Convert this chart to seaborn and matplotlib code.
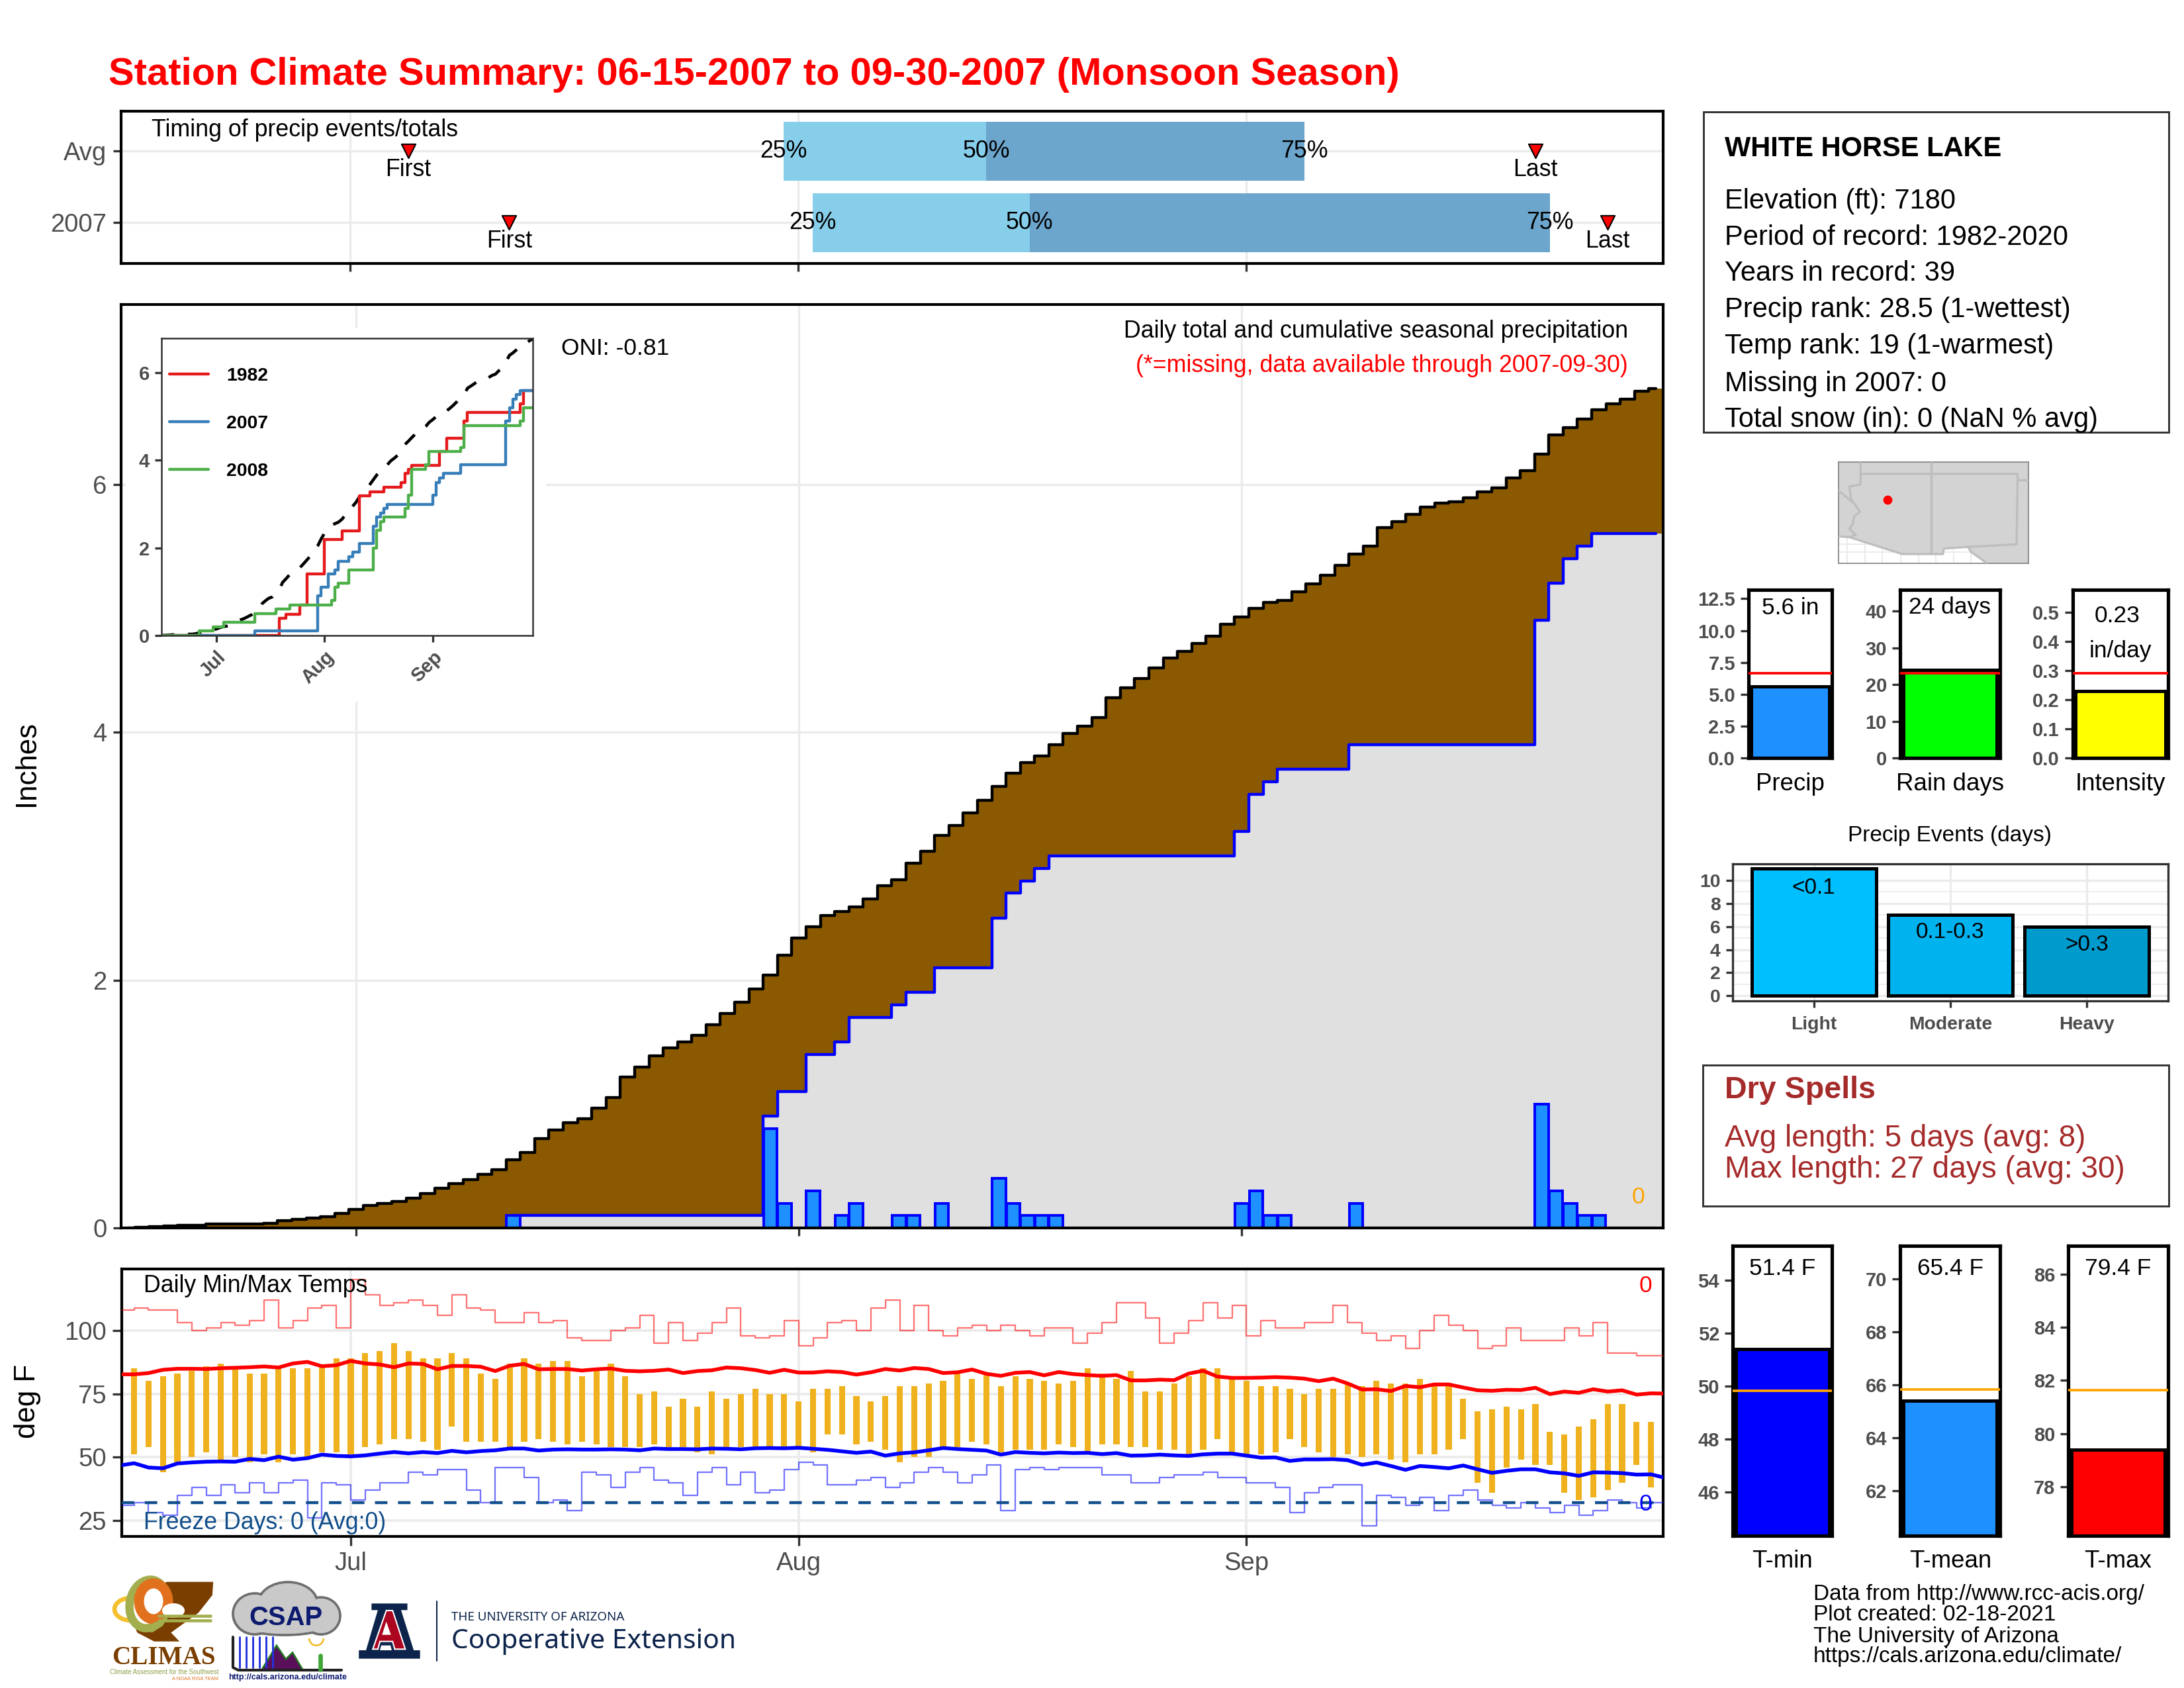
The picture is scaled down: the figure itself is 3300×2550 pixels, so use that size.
import numpy as np
import pandas as pd
import matplotlib
matplotlib.use('Agg')
import matplotlib.pyplot as plt
from matplotlib.patches import Rectangle, Polygon, Ellipse, Wedge
import seaborn as sns

# ==================== DATA ====================
# day numbers count from 06-15 (day 0), so Jul 1 = 16, Aug 1 = 47, Sep 1 = 78
month_days = [16, 47, 78]
month_labels = ['Jul', 'Aug', 'Sep']

avg_cum = [0.0, 0.005, 0.01, 0.015, 0.02, 0.02, 0.03, 0.03, 0.03, 0.03, 0.04, 0.06, 0.07, 0.08, 0.09,
           0.12, 0.15, 0.18, 0.20, 0.215, 0.24, 0.28, 0.32, 0.36, 0.39, 0.43, 0.47, 0.55, 0.61, 0.72,
           0.79, 0.85, 0.88, 0.965, 1.05, 1.215, 1.30, 1.39, 1.455, 1.50, 1.555, 1.64, 1.73, 1.82, 1.93,
           2.04, 2.20, 2.34, 2.43, 2.52, 2.555, 2.59, 2.655, 2.76, 2.81, 2.945, 3.04, 3.165, 3.245, 3.35,
           3.45, 3.56, 3.67, 3.755, 3.81, 3.90, 3.99, 4.05, 4.12, 4.28, 4.36, 4.435, 4.52, 4.60, 4.65,
           4.715, 4.775, 4.87, 4.93, 5.0, 5.045, 5.065, 5.13, 5.195, 5.265, 5.345, 5.435, 5.50, 5.65, 5.70,
           5.755, 5.815, 5.85, 5.86, 5.89, 5.94, 5.97, 6.05, 6.11, 6.245, 6.40, 6.455, 6.525, 6.60, 6.65,
           6.685, 6.75, 6.77]

rain_days = [27, 45, 46, 48, 50, 51, 54, 55, 57, 61, 62, 63, 64, 65, 78, 79, 80, 81, 86, 99, 100, 101, 102, 103]
rain_amt = [0.1, 0.8, 0.2, 0.3, 0.1, 0.2, 0.1, 0.1, 0.2, 0.4, 0.2, 0.1, 0.1, 0.1, 0.2, 0.3, 0.1, 0.1, 0.2,
            1.0, 0.3, 0.2, 0.1, 0.1]

# inset years, day of each jump and the total after it
y1982_days = [0, 34, 36, 40, 42, 47, 52, 57, 60, 64, 69, 70, 71, 72, 80, 82, 87, 88, 103, 104, 107]
y1982_vals = [0, 0.39, 0.49, 0.70, 1.40, 2.20, 2.39, 3.19, 3.28, 3.39, 3.50, 3.70, 3.80, 3.89, 4.21, 4.50,
              4.90, 5.10, 5.30, 5.60, 5.60]
y2008_days = [0, 11, 15, 18, 27, 33, 37, 49, 50, 51, 54, 61, 62, 63, 64, 70, 71, 72, 76, 77, 86, 87, 103, 104, 107]
y2008_vals = [0, 0.1, 0.2, 0.3, 0.5, 0.6, 0.7, 0.8, 1.1, 1.2, 1.5, 2.0, 2.4, 2.6, 2.7, 2.9, 3.2, 3.8, 3.9, 4.2,
              4.3, 4.8, 4.9, 5.2, 5.2]

# temps, highs and lows run from day 1
temp_high = [85, 80, 82, 83, 84, 86, 87, 85, 83, 83, 85, 85, 85, 86, 89, 89, 91, 92, 95, 92, 89, 89, 91, 89, 83,
             81, 87, 89, 87, 88, 88, 82, 85, 87, 82, 75, 76, 70, 73, 70, 76, 73, 75, 77, 75, 75, 72, 77, 77, 78,
             74, 72, 74, 78, 78, 79, 80, 83, 81, 83, 78, 82, 81, 80, 79, 80, 85, 83, 81, 84, 76, 76, 79, 82, 85,
             85, 81, 80, 78, 78, 77, 75, 77, 77, 79, 78, 80, 79, 79, 81, 79, 79, 73, 68, 69, 70, 69, 71, 60, 59,
             62, 65, 71, 71, 64, 64]
temp_low = [51, 54, 44, 48, 50, 52, 49, 50, 48, 51, 48, 51, 50, 52, 52, 51, 54, 55, 57, 57, 56, 53, 62, 56, 56,
            56, 54, 56, 57, 56, 55, 56, 55, 54, 54, 54, 55, 54, 54, 52, 51, 53, 54, 54, 54, 54, 54, 52, 59, 59,
            55, 56, 53, 48, 50, 50, 54, 54, 56, 55, 52, 53, 53, 53, 55, 54, 52, 55, 55, 54, 54, 53, 53, 51, 53,
            57, 52, 51, 51, 52, 57, 54, 52, 50, 51, 50, 51, 49, 48, 51, 51, 53, 57, 40, 36, 46, 49, 47, 47, 36,
            33, 34, 37, 40, 47, 38]

# record lines start at day 0
rec_high = [108, 109, 108, 108, 103, 100, 101, 103, 102, 104, 112, 101, 104, 109, 110, 101, 120, 114, 110, 111,
            112, 110, 106, 114, 109, 108, 103, 103, 107, 103, 104, 97, 96, 96, 100, 101, 106, 95, 103, 96, 99,
            103, 109, 98, 97, 98, 104, 94, 97, 103, 104, 100, 109, 112, 100, 110, 100, 98, 101, 102, 100, 102,
            100, 98, 101, 101, 95, 99, 103, 111, 111, 105, 95, 99, 104, 111, 105, 110, 98, 104, 101, 101, 103,
            103, 110, 103, 99, 96, 98, 93, 100, 106, 102, 100, 93, 94, 101, 96, 96, 96, 101, 98, 103, 91, 91,
            90, 90, 90]
rec_low = [31, 32, 28, 27, 35, 38, 35, 39, 36, 40, 36, 40, 41, 26, 40, 39, 33, 37, 40, 40, 44, 43, 45, 45, 37,
           32, 46, 46, 42, 32, 33, 29, 44, 43, 38, 44, 46, 41, 40, 35, 44, 46, 39, 44, 36, 37, 45, 48, 47, 39,
           39, 41, 42, 38, 40, 44, 46, 44, 40, 43, 47, 29, 45, 46, 45, 46, 46, 46, 43, 43, 40, 40, 42, 43, 43,
           44, 42, 42, 40, 40, 38, 28, 36, 38, 39, 39, 23, 35, 34, 31, 34, 29, 35, 37, 33, 31, 30, 32, 30, 28,
           31, 27, 29, 33, 32, 30, 32, 32]

# average lines start at day 0
avg_max = [82.7, 82.7, 83.2, 84.5, 84.9, 84.9, 84.8, 85.1, 85.3, 85.5, 85.8, 85.4, 87.0, 87.6, 85.9, 86.3, 88.0, 87.0,
           86.6, 85.5, 87.0, 86.8, 84.7, 86.0, 86.0, 85.7, 84.0, 86.1, 86.8, 84.7, 84.8, 84.8, 84.2, 84.7, 85.0,
           84.1, 83.9, 84.1, 84.6, 83.2, 84.0, 84.3, 85.4, 85.1, 84.4, 83.3, 84.5, 83.4, 83.4, 83.9, 83.6, 82.6,
           83.5, 84.8, 84.2, 85.2, 84.8, 83.2, 83.5, 84.6, 82.9, 82.1, 83.3, 83.6, 82.3, 83.6, 82.8, 82.4, 82.1,
           82.4, 80.3, 80.3, 80.6, 80.4, 83.0, 84.1, 81.8, 81.3, 81.3, 81.4, 81.6, 81.4, 81.0, 80.0, 81.0, 79.1,
           76.7, 76.8, 76.1, 78.1, 77.6, 78.7, 78.7, 77.5, 76.4, 76.2, 76.6, 76.5, 77.4, 74.9, 75.9, 75.4, 76.8,
           75.9, 76.4, 74.7, 75.2, 75.1]
avg_min = [46.7, 47.6, 45.9, 45.6, 47.5, 47.9, 48.2, 48.3, 48.2, 49.3, 48.8, 50.2, 49.0, 49.6, 51.0, 50.5, 50.3, 50.7,
           51.4, 52.0, 51.5, 52.0, 51.6, 52.5, 51.9, 52.4, 52.7, 53.4, 53.4, 52.6, 53.0, 53.1, 53.0, 53.0, 53.1,
           53.0, 52.7, 53.4, 53.2, 53.2, 53.1, 53.4, 53.3, 53.1, 53.5, 53.6, 53.5, 53.7, 53.3, 52.9, 52.3, 51.7,
           52.2, 50.6, 51.5, 51.9, 52.7, 53.6, 53.2, 52.9, 52.6, 51.0, 52.0, 51.7, 51.5, 51.8, 51.6, 51.7, 51.2,
           51.6, 50.6, 50.7, 51.0, 50.7, 50.5, 51.1, 51.4, 51.4, 50.6, 49.8, 49.9, 48.5, 49.1, 49.1, 49.2, 48.8,
           47.0, 47.9, 46.5, 45.0, 46.5, 46.1, 45.6, 46.7, 45.2, 43.8, 44.6, 45.2, 45.2, 44.0, 43.6, 42.6, 44.0,
           43.9, 43.7, 43.1, 43.2, 41.8]

# timing strip: 25/50/75 pct days, first and last event
timing_rows = ['Avg', '2007']
timing_q25 = [46, 48]
timing_q50 = [60, 63]
timing_q75 = [82, 99]
timing_first = [20, 27]
timing_last = [98, 103]

# right hand summary bars
precip_value, precip_avg = 5.6, 6.65
raindays_value, raindays_avg = 24, 23.05
intensity_value, intensity_avg = 0.23, 0.29
event_names = ['Light', 'Moderate', 'Heavy']
event_counts = [11, 7, 6]
event_tags = ['<0.1', '0.1-0.3', '>0.3']
event_colors = ['#00BFFF', '#00B2EE', '#009ACD']
tmin_value, tmin_avg = 51.4, 49.84
tmean_value, tmean_avg = 65.4, 65.84
tmax_value, tmax_avg = 79.4, 81.64

info_lines = ['Elevation (ft): 7180', 'Period of record: 1982-2020', 'Years in record: 39',
              'Precip rank: 28.5 (1-wettest)', 'Temp rank: 19 (1-warmest)', 'Missing in 2007: 0',
              'Total snow (in): 0 (NaN % avg)']
footer_lines = ['Data from http://www.rcc-acis.org/', 'Plot created: 02-18-2021', 'The University of Arizona',
                'https://cals.arizona.edu/climate/']

# ==================== CONFIGURATION ====================
W, H = 3300, 2550
GRID = '#EBEBEB'
TICKTXT = '#4D4D4D'
TICK = '#333333'

sns.set_theme(style='white')
plt.rcParams['font.family'] = ['Liberation Sans', 'DejaVu Sans']
plt.rcParams['text.color'] = 'black'

fig = plt.figure(figsize=(11, 8.5), dpi=300, facecolor='white')


def px_axes(x0, y0, x1, y1, zorder=1):
    return fig.add_axes([x0 / W, 1 - y1 / H, (x1 - x0) / W, (y1 - y0) / H], zorder=zorder)


def frame(ax, color='black', lw=1.0):
    for s in ax.spines.values():
        s.set_visible(True)
        s.set_color(color)
        s.set_linewidth(lw)


def ticks(ax, size=9.2, bold=False, length=2.8, pad=2.4):
    ax.tick_params(axis='both', which='major', labelsize=size, labelcolor=TICKTXT, color=TICK,
                   length=length, width=0.8, pad=pad, left=True, bottom=True)
    if bold:
        plt.setp(ax.get_xticklabels() + ax.get_yticklabels(), fontweight='bold')


# overlay in pixel coordinates, used for free text and logos
over = px_axes(0, 0, W, H, zorder=2)
over.axis('off')
over.patch.set_alpha(0)

over.text(164, 110, 'Station Climate Summary: 06-15-2007 to 09-30-2007 (Monsoon Season)', color='red',
          fontsize=13.9, fontweight='bold', va='center', ha='left')

# ==================== TIMING STRIP ====================
ax = px_axes(183, 168, 2513, 398)
ypos = [1, 0]
ax.grid(True, color=GRID, lw=0.8)
ax.set_axisbelow(True)
ax.barh(ypos, np.array(timing_q50) - np.array(timing_q25), left=timing_q25, height=0.82, color='#87CEEB', lw=0, zorder=2)
ax.barh(ypos, np.array(timing_q75) - np.array(timing_q50), left=timing_q50, height=0.82, color='#6CA6CD', lw=0, zorder=2)
sns.scatterplot(x=timing_first + timing_last, y=ypos + ypos, marker='v', color='red', edgecolor='black',
                linewidth=0.5, s=26, ax=ax, zorder=3, legend=False)
for i, y in enumerate(ypos):
    ax.text(timing_q25[i], y, '25%', ha='center', va='center', fontsize=8.6, color='black', zorder=4)
    ax.text(timing_q50[i], y, '50%', ha='center', va='center', fontsize=8.6, color='black', zorder=4)
    ax.text(timing_q75[i], y, '75%', ha='center', va='center', fontsize=8.6, color='black', zorder=4)
    ax.text(timing_first[i], y - 0.26, 'First', ha='center', va='center', fontsize=8.6, color='black', zorder=4)
    ax.text(timing_last[i], y - 0.26, 'Last', ha='center', va='center', fontsize=8.6, color='black', zorder=4)
ax.set_xlim(0.15, 106.84)
ax.set_ylim(-0.57, 1.56)
ax.set_yticks(ypos)
ax.set_yticklabels(timing_rows)
ax.set_xticks(month_days)
ax.set_xticklabels([])
frame(ax)
ticks(ax)
over.text(229, 194, 'Timing of precip events/totals', fontsize=8.6, va='center')

# ==================== MAIN PRECIP PANEL ====================
days = np.arange(len(avg_cum))
rain_daily = pd.Series(rain_amt, index=rain_days).reindex(days, fill_value=0.0)
cum_2007 = rain_daily.cumsum().values
fill_days = np.append(days, days[-1] + 1)
fill_avg = np.append(avg_cum, avg_cum[-1])
fill_2007 = np.append(cum_2007, cum_2007[-1])

ax = px_axes(183, 460, 2513, 1855)
ax.grid(True, color=GRID, lw=0.8)
ax.set_axisbelow(True)
ax.fill_between(fill_days, 0, fill_2007, step='mid', color='#E0E0E0', lw=0, zorder=1)
ax.fill_between(fill_days, fill_2007, fill_avg, step='mid', color='#8B5A00', lw=0, zorder=1)
sns.barplot(x=rain_days, y=rain_amt, native_scale=True, width=0.95, color='#1E90FF', saturation=1,
            edgecolor='blue', linewidth=0.95, errorbar=None, ax=ax, zorder=2)
sns.lineplot(x=days, y=avg_cum, color='black', linewidth=1.05, drawstyle='steps-mid', estimator=None, ax=ax, zorder=3)
sns.lineplot(x=days[27:], y=cum_2007[27:], color='blue', linewidth=1.05, drawstyle='steps-mid', estimator=None,
             ax=ax, zorder=3)
ax.set_xlim(-0.45, 107.5)
ax.set_ylim(0, 7.45)
ax.set_xticks(month_days)
ax.set_xticklabels([])
ax.set_yticks([0, 2, 4, 6])
ax.set_ylabel('')
frame(ax)
ticks(ax)

over.add_patch(Rectangle((190, 492), 635, 565, color='white', lw=0, zorder=0))
over.text(40, 1150, 'Inches', rotation=90, fontsize=10.5, ha='center', va='center')
over.text(848, 524, 'ONI: -0.81', fontsize=8.5, va='center')
over.text(2460, 497, 'Daily total and cumulative seasonal precipitation', fontsize=8.6, ha='right', va='center')
over.text(2460, 549, '(*=missing, data available through 2007-09-30)', color='red', fontsize=8.6, ha='right',
          va='center')
over.text(2475, 1805, '0', color='orange', fontsize=8.5, ha='center', va='center')

# ==================== INSET ====================
ins = px_axes(244, 511, 805, 960, zorder=3)
sns.lineplot(x=days, y=avg_cum, color='black', linewidth=1.1, linestyle=(0, (4.5, 4.5)), estimator=None, ax=ins)
sns.lineplot(x=y1982_days, y=y1982_vals, color='#E41A1C', linewidth=1.05, drawstyle='steps-post', estimator=None,
             ax=ins, label='1982', legend=False)
sns.lineplot(x=days, y=cum_2007, color='#377EB8', linewidth=1.05, drawstyle='steps-post', estimator=None,
             ax=ins, label='2007', legend=False)
sns.lineplot(x=y2008_days, y=y2008_vals, color='#4DAF4A', linewidth=1.05, drawstyle='steps-post', estimator=None,
             ax=ins, label='2008', legend=False)
ins.set_xlim(0.25, 106.7)
ins.set_ylim(0, 6.79)
ins.set_xticks(month_days)
ins.set_xticklabels(month_labels, rotation=45, ha='right', rotation_mode='anchor')
ins.set_yticks([0, 2, 4, 6])
frame(ins, color=TICK, lw=0.6)
ticks(ins, size=7.0, bold=True, length=2.4, pad=2)
ins.legend(loc='upper left', bbox_to_anchor=(-0.022, 0.955), frameon=False, prop={'weight': 'bold', 'size': 6.8},
           handlelength=2.1, handletextpad=0.95, labelspacing=1.62, borderpad=0.35, labelcolor='black')

# ==================== DAILY TEMPS ====================
ax = px_axes(184, 1917, 2513, 2321)
ax.grid(True, color=GRID, lw=0.9)
ax.set_axisbelow(True)
bar_days = np.arange(1, len(temp_high) + 1)
ax.bar(bar_days, np.array(temp_high) - np.array(temp_low), bottom=temp_low, width=0.42, color='#EFB21E', lw=0, zorder=2)
sns.lineplot(x=np.arange(len(rec_high)), y=rec_high, color='red', alpha=0.55, linewidth=0.55, drawstyle='steps-post',
             estimator=None, ax=ax, zorder=3)
sns.lineplot(x=np.arange(len(rec_low)), y=rec_low, color='blue', alpha=0.55, linewidth=0.55, drawstyle='steps-post',
             estimator=None, ax=ax, zorder=3)
sns.lineplot(x=np.arange(len(avg_max)), y=avg_max, color='red', linewidth=1.35, estimator=None, ax=ax, zorder=4)
sns.lineplot(x=np.arange(len(avg_min)), y=avg_min, color='blue', linewidth=1.35, estimator=None, ax=ax, zorder=4)
ax.axhline(32, color='#104E8B', lw=1.05, linestyle=(0, (4.3, 3.65)), zorder=4)
ax.set_xlim(0.15, 106.84)
ax.set_ylim(18.7, 124.3)
ax.set_xticks(month_days)
ax.set_xticklabels(month_labels)
ax.set_yticks([25, 50, 75, 100])
frame(ax)
ticks(ax, length=3.4, pad=2.2)
over.text(42, 2114, 'deg F', rotation=90, fontsize=10.5, ha='center', va='center')
over.text(217, 1940, 'Daily Min/Max Temps', fontsize=8.6, va='center')
over.text(217, 2297, 'Freeze Days: 0 (Avg:0)', color='#104E8B', fontsize=8.6, va='center')
over.text(2486, 1939, '0', color='red', fontsize=8.5, ha='center', va='center')
over.text(2486, 2269, '0', color='blue', fontsize=8.5, ha='center', va='center')

# ==================== INFO BOXES ====================
over.add_patch(Rectangle((2574, 166), 703, 484, fill=False, ec=TICK, lw=0.7))
over.text(2606, 222, 'WHITE HORSE LAKE', fontsize=10, fontweight='bold', va='center')
for txt, y in zip(info_lines, [301, 356, 410, 465, 520, 577, 631]):
    over.text(2606, y, txt, fontsize=10, va='center')

over.add_patch(Rectangle((2573, 1606), 704, 213, fill=False, ec=TICK, lw=0.7))
over.text(2606, 1644, 'Dry Spells', color='#A52A2A', fontsize=11.2, fontweight='bold', va='center')
over.text(2606, 1717, 'Avg length: 5 days (avg: 8)', color='#A52A2A', fontsize=11, va='center')
over.text(2606, 1764, 'Max length: 27 days (avg: 30)', color='#A52A2A', fontsize=11, va='center')

# ==================== LOCATOR MAP ====================
mp = px_axes(2778, 698, 3065, 851)
land_x = [491, 525, 690, 817, 820, 895, 905, 955, 1084, 1084, 491]
land_y = [203, 205, 245, 245, 232, 228, 240, 267, 267, 27, 27]
az_x = [560, 560, 525, 530, 540, 558, 540, 535, 525, 545, 525]
az_y = [27, 80, 85, 115, 125, 145, 155, 175, 185, 200, 205]
ca_x = [491, 540]
ca_y = [95, 125]
nm_x = [560, 1050, 1047, 895]
nm_y = [55, 55, 222, 228]
azn_x = [781, 781]
azn_y = [27, 245]
ok_x = [1050, 1084]
ok_y = [70, 70]
for gx in [517, 573, 628, 685, 740, 795, 850, 905]:
    mp.axvline(gx, color=GRID, lw=0.5)
for gy in [222, 240]:
    mp.axhline(gy, color=GRID, lw=0.5)
mp.fill(land_x, land_y, color='#D3D3D3', lw=0, zorder=2)
for bx, by in [(az_x, az_y), (ca_x, ca_y), (nm_x, nm_y), (azn_x, azn_y), (ok_x, ok_y), (land_x[:8], land_y[:8])]:
    mp.plot(bx, by, color='#BEBEBE', lw=0.8, zorder=3)
mp.scatter([643], [117], s=11, color='red', lw=0, zorder=4)
mp.set_xlim(491, 1084)
mp.set_ylim(267, 27)
mp.set_xticks([])
mp.set_yticks([])
frame(mp, color='#7F7F7F', lw=0.4)


# ==================== SUMMARY BARS ====================
def summary_bar(box, name, value, avg, ymax, color, yt, line_color, ylo=0, thick=1.2, fmt=None):
    a = px_axes(*box)
    sns.barplot(x=[name], y=[value - ylo], bottom=ylo, width=0.94, color=color, saturation=1, edgecolor='black',
                linewidth=thick, errorbar=None, ax=a, zorder=2)
    a.axhline(avg, color=line_color, lw=0.9, zorder=3)
    a.set_xlim(-0.5, 0.5)
    a.set_ylim(ylo, ymax)
    a.set_xticks([])
    a.set_yticks(yt)
    if fmt:
        a.set_yticklabels([fmt % v for v in yt])
    a.set_xlabel('')
    frame(a, lw=1.25)
    ticks(a, size=7.0, bold=True, length=2.8, pad=2)
    return a


summary_bar((2642, 891, 2768, 1145), 'Precip', precip_value, precip_avg, 13.2, '#1E90FF',
            [0, 2.5, 5, 7.5, 10, 12.5], 'red', fmt='%.1f')
summary_bar((2871, 891, 3022, 1145), 'Rain days', raindays_value, raindays_avg, 45.8, '#00FF00',
            [0, 10, 20, 30, 40], 'red')
summary_bar((3132, 891, 3276, 1145), 'Intensity', intensity_value, intensity_avg, 0.577, '#FFFF00',
            [0, 0.1, 0.2, 0.3, 0.4, 0.5], 'red', fmt='%.1f')
over.text(2705, 915, '5.6 in', fontsize=8.5, ha='center', va='center')
over.text(2946, 915, '24 days', fontsize=8.5, ha='center', va='center')
over.text(3199, 927, '0.23', fontsize=8.5, ha='center', va='center')
over.text(3204, 980, 'in/day', fontsize=8.5, ha='center', va='center')
over.text(2705, 1182, 'Precip', fontsize=8.8, ha='center', va='center')
over.text(2947, 1182, 'Rain days', fontsize=8.8, ha='center', va='center')
over.text(3204, 1182, 'Intensity', fontsize=8.8, ha='center', va='center')

# precip events
over.text(2946, 1260, 'Precip Events (days)', fontsize=8, ha='center', va='center')
ax = px_axes(2618, 1305, 3276, 1512)
sns.barplot(x=event_names, y=event_counts, hue=event_names, palette=event_colors, saturation=1, width=0.91,
            edgecolor='black', linewidth=1.2, errorbar=None, legend=False, ax=ax, zorder=2)
ax.set_yticks(np.arange(1, 11, 2), minor=True)
ax.grid(True, which='major', color=GRID, lw=0.8)
ax.grid(True, which='minor', axis='y', color=GRID, lw=0.4)
ax.tick_params(axis='y', which='minor', length=0)
ax.set_axisbelow(True)
ax.set_xlim(-0.594, 2.594)
ax.set_ylim(-0.44, 11.43)
ax.set_yticks([0, 2, 4, 6, 8, 10])
ax.set_xlabel('')
ax.set_ylabel('')
frame(ax, color=TICK, lw=0.8)
ticks(ax, size=6.8, bold=True, length=2.4, pad=2)
ax.tick_params(axis='x', pad=3.2)
for i, (tag, y) in enumerate(zip(event_tags, [9.34, 5.5, 4.4])):
    ax.text(i, y, tag, fontsize=8, ha='center', va='center', zorder=3)

# temperature summary bars
summary_bar((2618, 1882, 2768, 2320), 'T-min', tmin_value, tmin_avg, 55.3, 'blue', [46, 48, 50, 52, 54], 'orange',
            ylo=44.36)
summary_bar((2871, 1882, 3022, 2320), 'T-mean', tmean_value, tmean_avg, 71.25, '#1E90FF', [62, 64, 66, 68, 70],
            'orange', ylo=60.31)
summary_bar((3125, 1882, 3276, 2320), 'T-max', tmax_value, tmax_avg, 87.07, 'red', [78, 80, 82, 84, 86], 'orange',
            ylo=76.15)
for cx, lab in zip([2693, 2947, 3200], ['51.4 F', '65.4 F', '79.4 F']):
    over.text(cx, 1913, lab, fontsize=8.5, ha='center', va='center')
for cx, lab in zip([2693, 2947, 3200], ['T-min', 'T-mean', 'T-max']):
    over.text(cx, 2356, lab, fontsize=8.8, ha='center', va='center')

for txt, y in zip(footer_lines, [2406, 2437, 2469, 2500]):
    over.text(2740, y, txt, fontsize=8.0, va='center')


# ==================== LOGOS ====================
def lp(pts):
    return [(150 + zx / 1.568, 2330 + zy / 3) for zx, zy in pts]


# CLIMAS mark
over.add_patch(Polygon(lp([(160, 170), (270, 170), (268, 230), (235, 310), (170, 400), (190, 440), (130, 440),
                           (90, 400), (75, 330), (90, 230)]), color='#7A3F00', lw=0))
over.add_patch(Ellipse((198, 2428), 50, 34, fill=False, ec='#F5C02E', lw=1.6))
over.add_patch(Ellipse((224, 2420), 56, 74, angle=12, fc='white', ec='#A3AE4E', lw=3.0))
over.add_patch(Ellipse((232, 2416), 44, 54, fc='white', ec='#E2711D', lw=3.6))
over.add_patch(Ellipse((262, 2430), 34, 22, color='white', lw=0))
over.add_patch(Polygon(lp([(100, 380), (165, 325), (150, 370), (125, 400)]), color='#A3AE4E', lw=0))
over.plot([240, 318], [2438, 2438], color='#A3AE4E', lw=1.1)
over.plot([240, 318], [2445, 2445], color='#A3AE4E', lw=1.1)
over.text(247, 2501, 'CLIMAS', family='Liberation Serif', fontsize=9.4, fontweight='bold', color='#7A3F00',
          ha='center', va='center')
over.text(248, 2523, 'Climate Assessment for the Southwest', fontsize=2.3, color='#8FA04A', ha='center', va='center')
over.text(295, 2533, 'A NOAA RISA TEAM', fontsize=1.8, color='#E2711D', ha='center', va='center')

# CSAP mark
for cx, cy, ew, eh in [(385, 2435, 66, 62), (435, 2420, 90, 66), (485, 2438, 58, 56), (430, 2445, 150, 44)]:
    over.add_patch(Ellipse((cx, cy), ew, eh, fc='#C9C9C9', ec='#6E6E6E', lw=0.9))
for cx, cy, ew, eh in [(385, 2435, 62, 58), (435, 2420, 86, 62), (485, 2438, 54, 52), (430, 2445, 146, 40)]:
    over.add_patch(Ellipse((cx, cy), ew, eh, color='#C9C9C9', lw=0))
over.text(432, 2441, 'CSAP', fontsize=9.6, fontweight='bold', color='#0C1A70', ha='center', va='center')
for rx in [362, 372, 382, 392, 402, 412]:
    over.plot([rx, rx], [2470, 2516], color='#2233DD', lw=0.7)
over.plot([352, 352, 360, 516], [2470, 2516, 2520, 2520], color='#222222', lw=1.0)
over.add_patch(Polygon(lp([(385, 568), (420, 458), (442, 520), (458, 490), (482, 568)]), fc='#5A0F5A', ec='#1F7A1F', lw=0.6))
over.add_patch(Wedge((478, 2472), 12, 0, 180, width=2.5, color='#F2B81F', lw=0))
over.plot([484, 484], [2498, 2519], color='#3FA535', lw=1.6)
over.text(435, 2531, 'http://cals.arizona.edu/climate', fontsize=3.0, fontweight='bold', color='#0C1A70',
          ha='center', va='center')

# Arizona block A and Cooperative Extension wordmark
over.add_patch(Polygon(lp([(645, 268), (730, 268), (730, 298), (715, 298), (745, 480), (760, 480), (760, 518),
                           (680, 518), (680, 480), (693, 480), (690, 458), (668, 458), (665, 480), (680, 480),
                           (680, 518), (615, 518), (615, 480), (632, 480), (660, 298), (645, 298)]),
                       color='#0C234B', lw=0))
over.add_patch(Polygon(lp([(680, 300), (695, 300), (725, 475), (700, 475), (695, 440), (665, 440), (660, 475),
                           (648, 475)]), fc='#AB0520', ec='white', lw=0.5))
over.add_patch(Polygon(lp([(680, 350), (691, 410), (670, 410)]), color='white', lw=0))
over.plot([660, 660], [2416, 2506], color='#0C234B', lw=0.5)
over.text(682, 2440, 'THE UNIVERSITY OF ARIZONA', family='Noto Sans', fontsize=4.5, color='#0C234B', va='center')
over.text(682, 2477, 'Cooperative Extension', family='Noto Sans', fontsize=9.8, color='#0C234B', va='center')

# small shift so the text centres sit where the reference has them
over.set_xlim(0, W)
over.set_ylim(H - 3, -3)

plt.savefig('out.png', dpi=300, facecolor='white')
plt.close()
